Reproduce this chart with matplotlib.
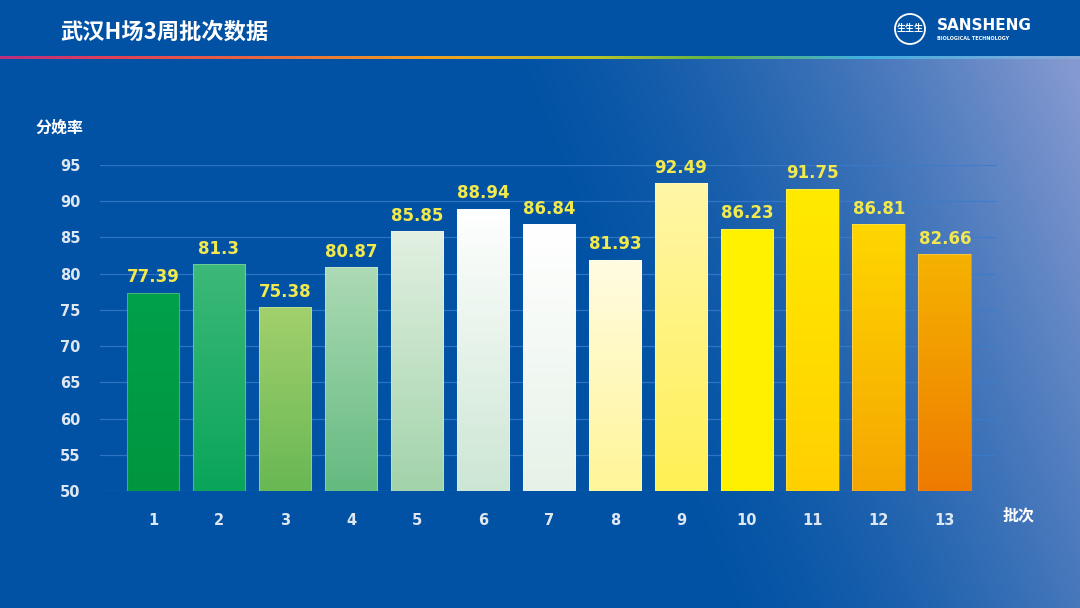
import numpy as np
import matplotlib
matplotlib.use("Agg")
import matplotlib.pyplot as plt
from matplotlib.colors import LinearSegmentedColormap, to_rgb
from matplotlib.patches import Ellipse

categories = ["1", "2", "3", "4", "5", "6", "7", "8", "9", "10", "11", "12", "13"]
values = [77.39, 81.3, 75.38, 80.87, 85.85, 88.94, 86.84, 81.93, 92.49, 86.23, 91.75, 86.81, 82.66]
yticks = [50, 55, 60, 65, 70, 75, 80, 85, 90, 95]
title = "武汉H场3周批次数据"
ylabel = "分娩率"
xlabel = "批次"

bar_top_colors = ["#00a04a", "#3cb878", "#a2d06c", "#acdab4", "#e2f0e2", "#ffffff", "#ffffff",
                  "#fffce2", "#fff6a6", "#fff200", "#ffea00", "#ffd600", "#f5b200"]
bar_bot_colors = ["#009640", "#0aa55a", "#68b854", "#64ba80", "#a2d3aa", "#cde6d4", "#e6f2e8",
                  "#fff598", "#fff055", "#fff000", "#ffd000", "#f5a600", "#ee7b00"]

NUMFONT = "DejaVu Sans"

W, H = 1080, 608
fig = plt.figure(figsize=(W / 100, H / 100), dpi=100)

# background
bg = fig.add_axes([0, 0, 1, 1])
bg.set_axis_off()
xs = np.linspace(0, 1, 540)
ys = np.linspace(0, 1, 304)  # 0 top
X, Y = np.meshgrid(xs, ys)
t = np.clip((X - 0.47) / 0.53 - 0.42 * (Y - 0.15), 0, 1) ** 1.45
c0 = np.array(to_rgb("#0152a4"))
c1 = np.array(to_rgb("#8499d0"))
img = c0[None, None, :] * (1 - t[..., None]) + c1[None, None, :] * t[..., None]
band = Y < 57 / H
img[band] = np.array(to_rgb("#0152a5"))
bg.imshow(img, extent=[0, 1, 0, 1], aspect="auto", origin="upper")
rb = LinearSegmentedColormap.from_list("rb", [(0, "#b83080"), (0.1, "#e04058"), (0.25, "#e86a40"),
                                              (0.4, "#f0a020"), (0.55, "#b8c428"), (0.66, "#60b448"),
                                              (0.8, "#40b0e0"), (1.0, "#88a8d8")])
grad = np.linspace(0, 1, 500)[None, :]
bg.imshow(grad, extent=[0, 1, 1 - 59.5 / H, 1 - 57 / H], aspect="auto", cmap=rb)
bg.set_xlim(0, 1)
bg.set_ylim(0, 1)

fig.text(60 / W, 1 - 32 / H, title, color="white", fontsize=16, fontweight="bold",
         family=["Noto Sans CJK SC", "DejaVu Sans"], va="center", ha="left")

# logo
bg.add_patch(Ellipse((910 / W, 1 - 29 / H), 30 / W, 30 / H, transform=bg.transAxes, fill=False,
                     ec="white", lw=1.3))
fig.text(910 / W, 1 - 29 / H, "生生生", color="white", fontsize=6.5, fontweight="bold",
         family=["Noto Sans CJK SC"], ha="center", va="center")
fig.text(937 / W, 1 - 26 / H, "SANSHENG", color="white", fontsize=11, fontweight="bold",
         family=NUMFONT, ha="left", va="center")
fig.text(937 / W, 1 - 38 / H, "BIOLOGICAL TECHNOLOGY", color="white", fontsize=3.5,
         fontweight="bold", family="DejaVu Sans", ha="left", va="center")

# chart
ax = fig.add_axes([100 / W, 1 - 491 / H, 897 / W, 326 / H])
ax.patch.set_alpha(0)
x = np.arange(1, len(values) + 1)
bars = ax.bar(x, [v - 50 for v in values], bottom=50, width=0.8, color="none",
              edgecolor="none", zorder=3)
for b, ct, cb in zip(bars, bar_top_colors, bar_bot_colors):
    cmap = LinearSegmentedColormap.from_list("g", [cb, ct])
    x0, y0 = b.get_x(), b.get_y()
    w, h = b.get_width(), b.get_height()
    im = ax.imshow(np.linspace(0, 1, 100)[:, None], extent=[x0, x0 + w, y0, y0 + h],
                   origin="lower", aspect="auto", cmap=cmap, zorder=3)
    im.set_clip_path(b)
    ax.add_patch(plt.Rectangle((x0, y0), w, h, fill=False, ec=(1, 1, 1, 0.25), lw=0.8, zorder=4))
ax.set_aspect("auto")
ax.set_xlim(0.197, 13.79)
ax.set_ylim(50, 95)

for xi, v in zip(x, values):
    ax.text(xi, v + 0.9, f"{v:g}", ha="center", va="bottom", color="#f2e94e",
            fontsize=12, fontweight="bold", family=NUMFONT, zorder=5)

ax.set_yticks(yticks)
ax.set_yticklabels([str(t_) for t_ in yticks])
ax.set_xticks(x)
ax.set_xticklabels(categories)
ax.tick_params(axis="both", length=0, colors="#dfe7f2", labelsize=10.5)
ax.tick_params(axis="y", pad=14)
ax.tick_params(axis="x", pad=16)
for lab in ax.get_xticklabels() + ax.get_yticklabels():
    lab.set_fontweight("bold")
    lab.set_family(NUMFONT)
ax.grid(axis="y", color="#3a7ccc", lw=0.9, alpha=0.8, zorder=0)
for s in ax.spines.values():
    s.set_visible(False)

fig.text(35 / W, 1 - 128 / H, ylabel, color="white", fontsize=11.5, fontweight="bold",
         family=["Noto Sans CJK SC", "DejaVu Sans"], va="center", ha="left")
fig.text(1003 / W, 1 - 515 / H, xlabel, color="white", fontsize=11.5, fontweight="bold",
         family=["Noto Sans CJK SC", "DejaVu Sans"], va="center", ha="left")

fig.savefig("out.png", dpi=100)
